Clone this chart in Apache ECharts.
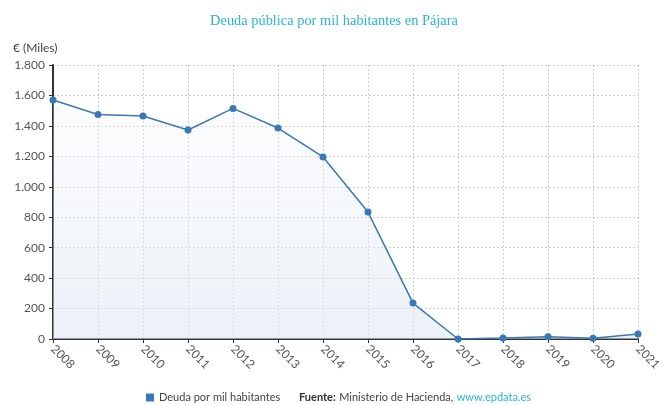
<!DOCTYPE html>
<html><head><meta charset="utf-8">
<script src="https://cdn.jsdelivr.net/npm/echarts@6/dist/echarts.min.js"></script>
<style>html,body{margin:0;padding:0;background:#fff}#c{width:668px;height:405px}</style>
</head><body><div id="c"></div>
<script>
var years = ['2008','2009','2010','2011','2012','2013','2014','2015','2016','2017','2018','2019','2020','2021'];
var deuda = [1570,1475,1465,1373,1515,1386,1196,834,236,0,7,15,5,33];
var seriesName = 'Deuda por mil habitantes';
var titleText = 'Deuda pública por mil habitantes en Pájara';

function fmt(v){return String(v).replace(/\B(?=(\d{3})+(?!\d))/g,'.');}
var font = '"Source Sans Pro",Lato,sans-serif';
var chart = echarts.init(document.getElementById('c'));
chart.setOption({
  animation:false,
  title:{text:titleText,left:'center',top:9,textStyle:{fontFamily:'"Liberation Serif",serif',fontWeight:'normal',fontSize:14.4,color:'#2bb5d3'}},
  grid:{left:53,right:30,top:65,bottom:66},
  legend:{data:[{name:seriesName,icon:'rect'}],left:146,top:392,padding:0,itemWidth:8,itemHeight:8,itemGap:3,textStyle:{fontFamily:font,fontSize:11,color:'#444'}},
  graphic:[
    {type:'text',left:13,top:42,style:{text:'€ (Miles)',font:'12px '+font,fill:'#444'}},
    {type:'text',left:299,top:391,style:{rich:{b:{fontWeight:'bold',fontFamily:font,fontSize:11,fill:'#333'},n:{fontFamily:font,fontSize:11,fill:'#444'},l:{fontFamily:font,fontSize:11,fill:'#2bb5d3'}},text:'{b|Fuente:} {n|Ministerio de Hacienda,} {l|www.epdata.es}'}}
  ],
  xAxis:{type:'category',data:years,boundaryGap:false,
    axisLine:{lineStyle:{color:'#333',width:2}},
    axisTick:{show:true,length:4,lineStyle:{color:'#333'}},
    axisLabel:{rotate:-45,color:'#555',fontFamily:font,fontSize:12,margin:8},
    splitLine:{show:true,lineStyle:{color:'#d0d0d0',type:[2,2]}}},
  yAxis:{type:'value',min:0,max:1800,interval:200,
    axisLine:{show:true,lineStyle:{color:'#333',width:2}},
    axisTick:{show:true,length:4,lineStyle:{color:'#333'}},
    axisLabel:{color:'#555',fontFamily:font,fontSize:12,formatter:fmt,margin:8},
    splitLine:{show:true,lineStyle:{color:'#d0d0d0',type:[2,2]}}},
  series:[{name:seriesName,type:'line',data:deuda,symbol:'circle',symbolSize:7,
    itemStyle:{color:'#3a78b5'},lineStyle:{color:'#3a78b5',width:1.5},
    areaStyle:{color:new echarts.graphic.LinearGradient(0,0,0,1,[{offset:0,color:'rgba(240,244,250,0.4)'},{offset:1,color:'rgba(220,230,242,0.8)'}]),origin:'start'}}]
});
</script></body></html>
